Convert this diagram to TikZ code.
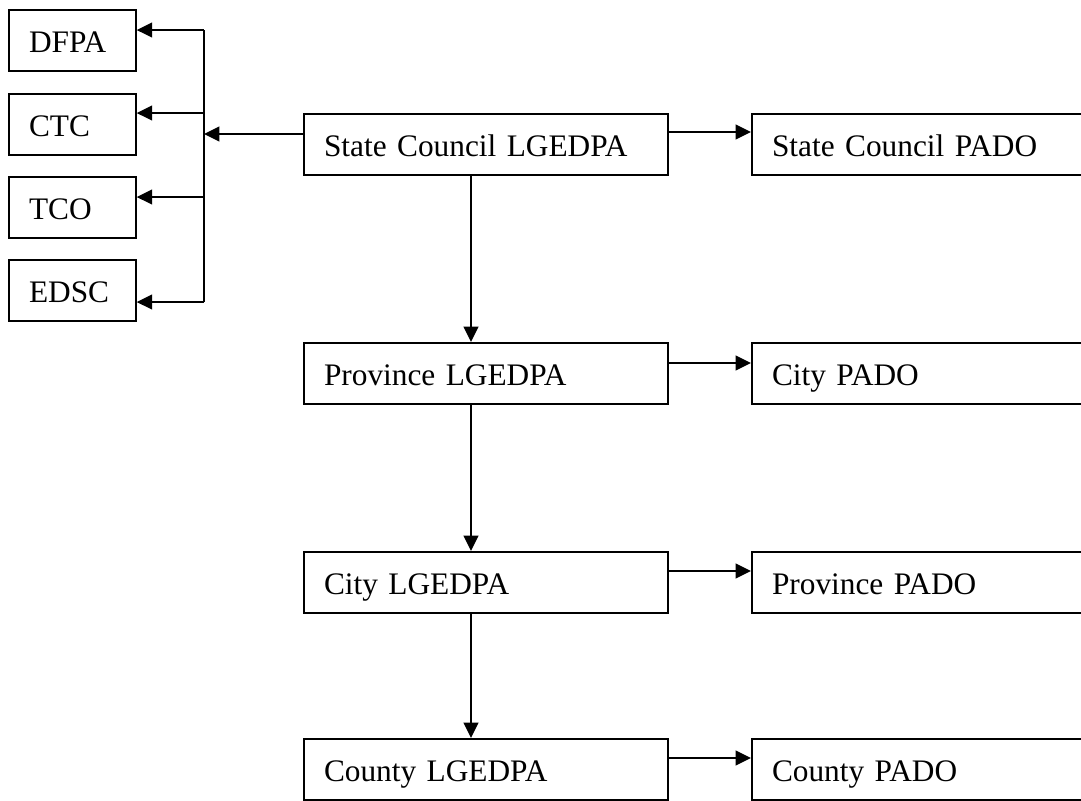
\documentclass[tikz,border=0pt]{standalone}
\usepackage{fontspec}
\setmainfont{Liberation Serif}
\usepackage{tikz}
\usetikzlibrary{arrows.meta, positioning}

\begin{document}
\begin{tikzpicture}[x = 0.75pt, y = -0.75pt,
		box/.style = {draw = black, line width = 1.5pt, anchor = north west, inner xsep = 15pt, inner ysep = 0pt, align = left, text height = 32pt, text depth = 14pt, font = \fontsize{23.5}{28}\selectfont},
		smallbox/.style = {box, text width = 65pt},
		mainbox/.style = {box, text width = 243pt},
		sidebox/.style = {box, text width = 245pt},
		arr/.style = {-{Triangle[length = 11.5pt, width = 11pt]}, line width = 1.5pt}]
		\useasboundingbox (0, 0) rectangle (1081, 800);
		\clip (0, 0) rectangle (1081, 800);
		\node[smallbox] (dfpa) at (8, 9) {DFPA};
		\node[smallbox] (ctc) at (8, 93) {CTC};
		\node[smallbox] (tco) at (8, 176) {TCO};
		\node[smallbox] (edsc) at (8, 259) {EDSC};
		\node[mainbox] (state) at (303, 113) {State Council LGEDPA};
		\node[mainbox] (prov) at (303, 342) {Province LGEDPA};
		\node[mainbox] (city) at (303, 551) {City LGEDPA};
		\node[mainbox] (county) at (303, 738) {County LGEDPA};
		\node[sidebox] (statepado) at (751, 113) {State Council PADO};
		\node[sidebox] (citypado) at (751, 342) {City PADO};
		\node[sidebox] (provpado) at (751, 551) {Province PADO};
		\node[sidebox] (countypado) at (751, 738) {County PADO};
		\coordinate (bus1) at (204, 30);
		\coordinate (bus2) at (204, 113);
		\coordinate (bus3) at (204, 197);
		\coordinate (bus4) at (204, 302);
		\coordinate (busin) at (204, 134);
		\draw[line width = 1.5pt] (bus1) -- (bus4);
		\draw[arr] (state.west |- busin) -- (busin);
		\draw[arr] (bus1) -- (dfpa.east |- bus1);
		\draw[arr] (bus2) -- (ctc.east |- bus2);
		\draw[arr] (bus3) -- (tco.east |- bus3);
		\draw[arr] (bus4) -- (edsc.east |- bus4);
		\draw[arr] (state.east |- 0, 132) -- (statepado.west |- 0, 132);
		\draw[arr] (prov.east |- 0, 363) -- (citypado.west |- 0, 363);
		\draw[arr] (city.east |- 0, 571) -- (provpado.west |- 0, 571);
		\draw[arr] (county.east |- 0, 758) -- (countypado.west |- 0, 758);
		\draw[arr] (state.south -| 471, 0) -- (prov.north -| 471, 0);
		\draw[arr] (prov.south -| 471, 0) -- (city.north -| 471, 0);
		\draw[arr] (city.south -| 471, 0) -- (county.north -| 471, 0);
		\end{tikzpicture}
\end{document}
